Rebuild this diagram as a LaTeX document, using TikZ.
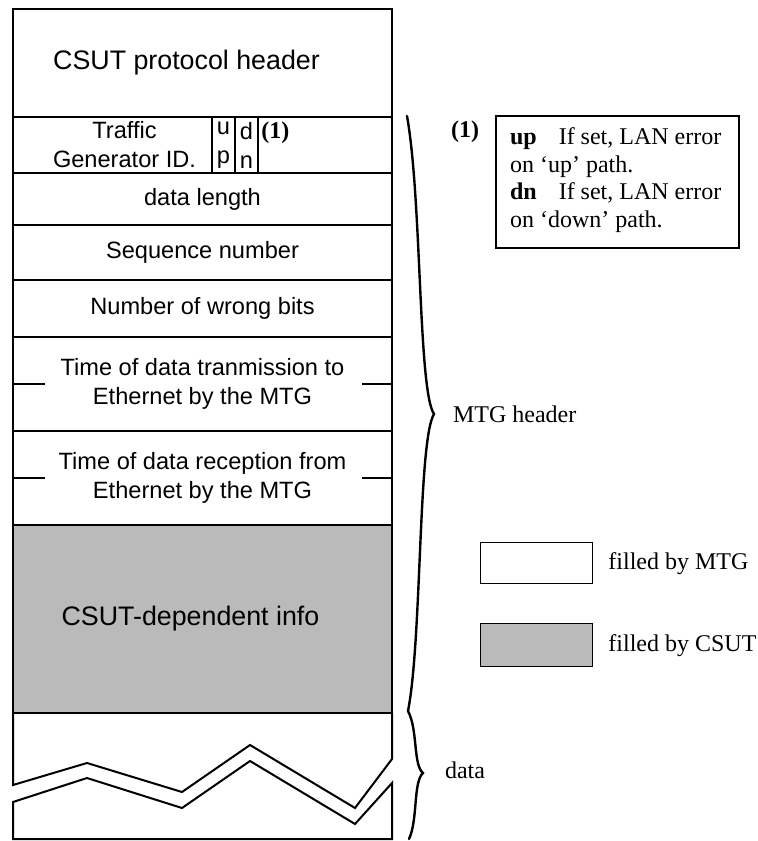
\documentclass[tikz,border=0pt]{standalone}
\usepackage{fontspec}
\setmainfont{Liberation Serif}
\setsansfont{Liberation Sans}
\usepackage{tikz}
\usetikzlibrary{positioning}
\tikzstyle{field} = [rectangle, draw=black, line width=1pt, minimum width=189.5pt, outer sep=0pt, inner sep=0pt, align=center, font=\sffamily\fontsize{11.8}{14.5}\selectfont]
\tikzstyle{bigfield} = [field, font=\sffamily\fontsize{13.4}{16}\selectfont]
\tikzstyle{csutfill} = [fill=black!27]
\tikzstyle{fieldtext} = [inner sep=0pt, align=center, font=\sffamily\fontsize{11.8}{14.5}\selectfont]
\tikzstyle{bitcell} = [rectangle, draw=black, line width=0.8pt, minimum width=11.5pt, minimum height=28pt, outer sep=0pt, inner sep=0pt, align=center, font=\sffamily\fontsize{11.8}{14.5}\selectfont]
\tikzstyle{midtick} = [line width=1pt]
\tikzstyle{outline} = [line width=1pt, line join=miter]
\tikzstyle{bracecurve} = [line width=1.2pt, line cap=round]
\tikzstyle{keybox} = [rectangle, draw=black, line width=0.7pt, minimum width=56pt, inner sep=0pt]
\tikzstyle{notetext} = [font=\fontsize{12}{13.85}\selectfont]

\begin{document}
\begin{tikzpicture}[x=0.5pt, y=-0.5pt]
    \useasboundingbox (0,0) rectangle (757,841);

    % packet fields, stacked
    \node (protoheader) [bigfield, minimum height=54pt, anchor=north west] at (13,9) {CSUT protocol header\hspace*{16pt}};
    \node (trafficid) [field, minimum height=28pt, below=0pt of protoheader] {};
    \node (dlen) [field, minimum height=26pt, below=0pt of trafficid] {data length};
    \node (seqno) [field, minimum height=27.5pt, below=0pt of dlen] {Sequence number};
    \node (wrongbits) [field, minimum height=28.5pt, below=0pt of seqno] {Number of wrong bits};
    \node (txtime) [field, minimum height=47pt, below=0pt of wrongbits] {Time of data tranmission to\\Ethernet by the MTG};
    \node (rxtime) [field, minimum height=47pt, below=0pt of txtime] {Time of data reception from\\Ethernet by the MTG};
    \node (csutinfo) [bigfield, csutfill, minimum height=94pt, below=0pt of rxtime] {CSUT-dependent info\hspace*{12pt}};

    % traffic generator row
    \node (tgname) [fieldtext] at (124.5,145) {Traffic\\Generator ID.};
    \node (upbit) [bitcell, anchor=north west] at (212,117) {u\\p};
    \node (dnbit) [bitcell, right=0pt of upbit] {d\\n};
    \node (footref) [notetext, font=\bfseries\fontsize{12}{14}\selectfont, inner sep=1pt, anchor=north west] at (259,119) {(1)};

    \draw [midtick] (txtime.west) -- ++(32,0);
    \draw [midtick] (txtime.east) -- ++(-30,0);
    \draw [midtick] (rxtime.west) -- ++(32,0);
    \draw [midtick] (rxtime.east) -- ++(-30,0);

    % data part, broken
    \draw [outline] (csutinfo.south west) -- (13,785) -- (87,763) -- (182,792) -- (250,745) -- (355,808) -- (392,759) -- (csutinfo.south east);
    \draw [outline] (13,802) -- (87,778) -- (182,808) -- (250,761) -- (355,824) -- (392,783) -- (392,839) -- (13,839) -- cycle;

    % braces
    \coordinate (mtgtop) at (407,116);
    \coordinate (mtgtip) at (434,414);
    \coordinate (mtgbot) at (408,711);
    \coordinate (datatip) at (423,773);
    \coordinate (databot) at (409,839);
    \draw [bracecurve] (mtgtop) .. controls (422,200) and (418,390) .. (mtgtip) .. controls (418,440) and (422,640) .. (mtgbot);
    \draw [bracecurve] (mtgbot) .. controls (418,730) and (413,765) .. (datatip) .. controls (413,782) and (418,820) .. (databot);
    \node (mtglabel) [notetext, anchor=west] at (446,414) {MTG header};
    \node (datalabel) [notetext, anchor=west] at (438,770) {data};

    % footnote
    \node (noteref) [notetext, font=\bfseries\fontsize{12}{14}\selectfont, anchor=west] at (444,132) {(1)};
    \node (notebox) [rectangle, draw=black, line width=1pt, minimum width=121.5pt, minimum height=66pt, anchor=north west] at (495,115) {};
    \node (notebody) [notetext, align=left, anchor=west] at (503,180) {\textbf{up}\enspace\, If set, LAN error\\on ‘up’ path.\\\textbf{dn}\enspace\, If set, LAN error\\on ‘down’ path.};

    % key
    \node (mtgkey) [keybox, minimum height=20.5pt, anchor=north west] at (480,542) {};
    \node (mtgkeytext) [notetext, right=4pt of mtgkey] {filled by MTG};
    \node (csutkey) [keybox, csutfill, minimum height=21.5pt, anchor=north west] at (480,623) {};
    \node (csutkeytext) [notetext, right=4pt of csutkey] {filled by CSUT};
\end{tikzpicture}
\end{document}
